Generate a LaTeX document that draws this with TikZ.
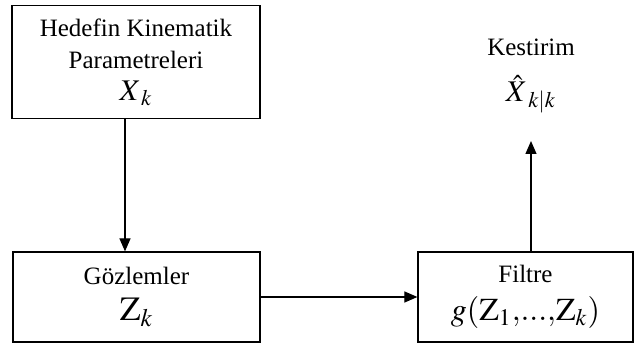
\documentclass[tikz,border=0pt]{standalone}
\usepackage{amsmath}
\usepackage{mathptmx}
\usepackage[no-math]{fontspec}
\setmainfont{Liberation Serif}
\usepackage{tikz}
\usetikzlibrary{arrows.meta, positioning, calc}

\begin{document}
\begin{tikzpicture}[x=0.5pt, y=-0.5pt,
  blok/.style={draw, line width=0.6pt, align=center, inner sep=0pt,
    font=\fontsize{12.5}{16}\selectfont},
  ok/.style={-{Triangle[length=6.5pt, width=5.5pt]}, line width=0.6pt}]
  \useasboundingbox (0,0) rectangle (634,347);

  % Hedef parametreleri
  \node[blok, minimum width=124pt, minimum height=56.5pt] (param) at (136,62)
    {Hedefin Kinematik\\Parametreleri\\[0pt]{\fontsize{15}{16}\selectfont $X_{\hspace{2pt}k}$}};

  % Gozlemler ve filtre
  \node[blok, minimum width=123.5pt, minimum height=45pt] (gozlem) at (136.5,297)
    {G\"ozlemler\\[2pt]{\fontsize{17}{16}\selectfont $\mathrm{Z}_k$}};
  \node[blok, minimum width=107.5pt, minimum height=45pt] (filtre) at (525.5,297)
    {Filtre\\[3pt]{\fontsize{16}{16}\selectfont $g(\mathrm{Z}_1{,}...{,}\mathrm{Z}_k)$}};

  % Kestirim
  \node[align=center, font=\fontsize{12.5}{16}\selectfont] (kestirim) at (531,76)
    {Kestirim\\[7pt]{\fontsize{15}{16}\selectfont $\hat{X}_{\hspace{2.5pt}k|k}$}};

  % Oklar
  \coordinate (inis) at (125,0);
  \coordinate (uc) at (531,141);
  \draw[ok] (param.south -| inis) -- (gozlem.north -| inis);
  \draw[ok] (gozlem.east) -- (gozlem.east -| filtre.west);
  \draw[ok] (filtre.north -| uc) -- (uc);
\end{tikzpicture}
\end{document}
